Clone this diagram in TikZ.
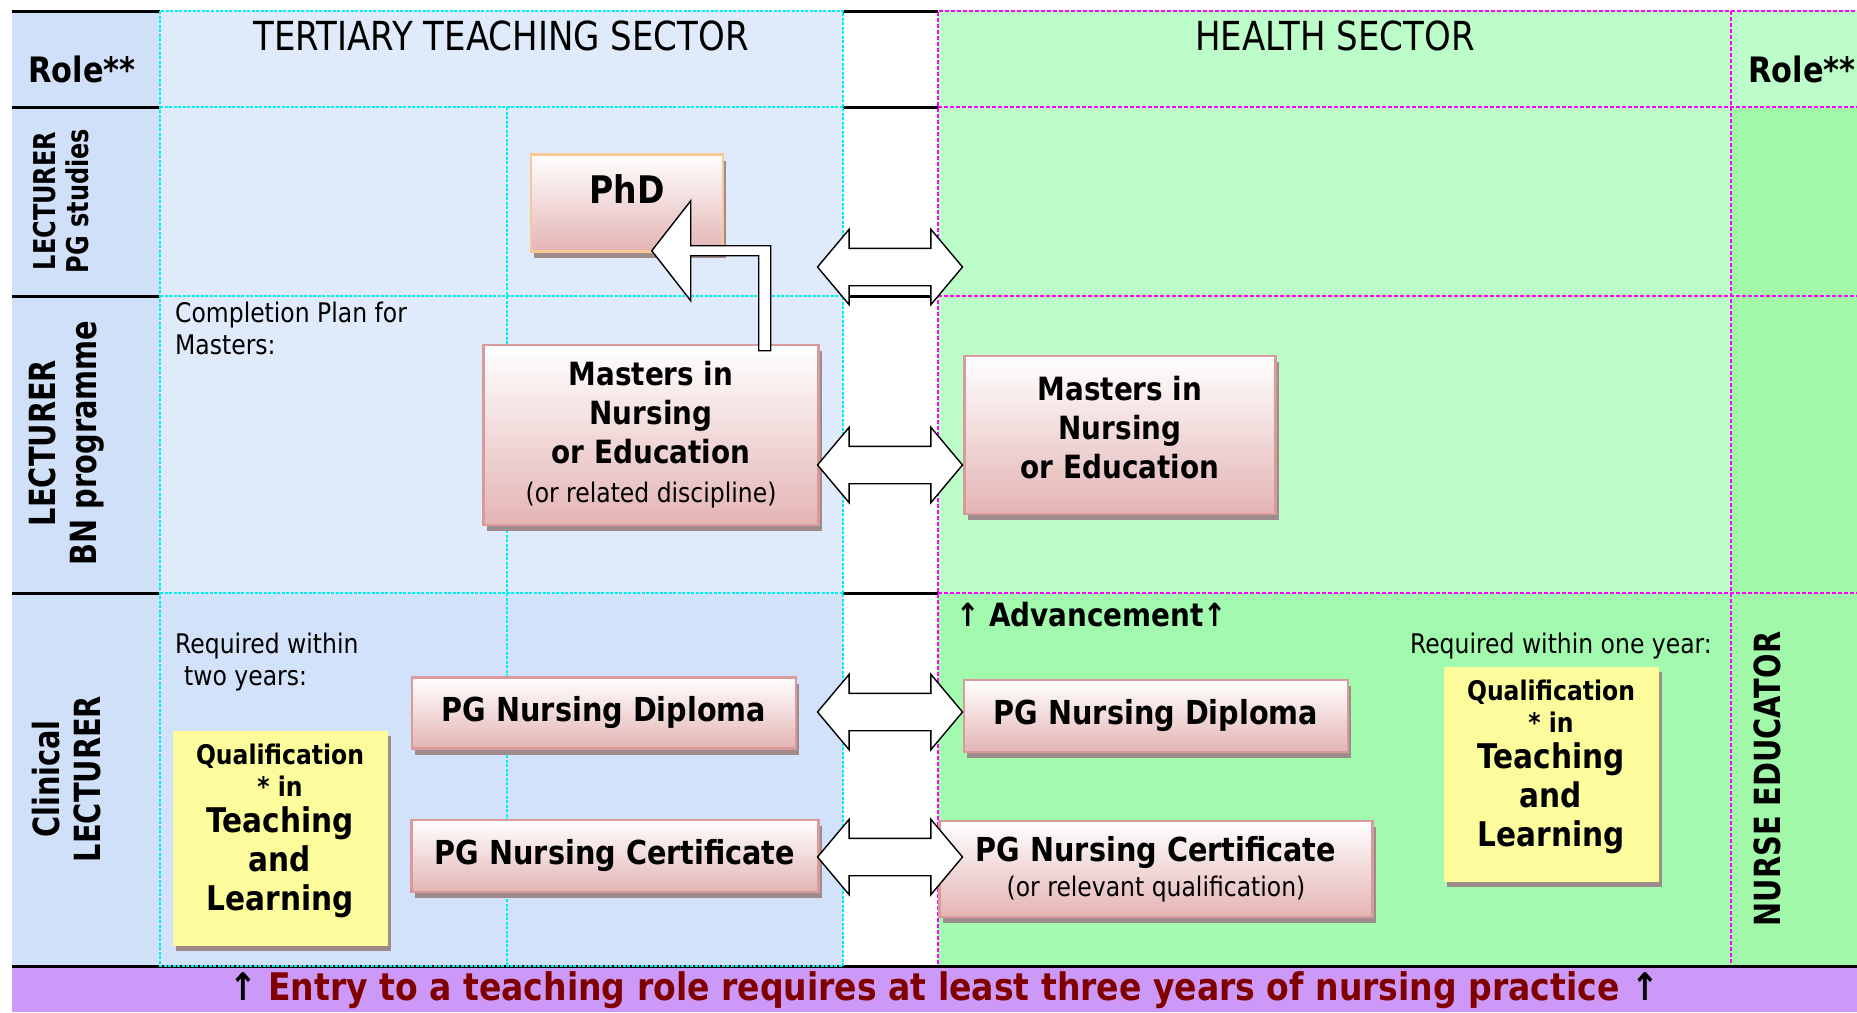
\documentclass[tikz,border=0pt]{standalone}
\usepackage{fontspec}
\setmainfont{DejaVu Sans}[FakeStretch=0.87]
\newfontfamily\rolefont{DejaVu Sans}[FakeStretch=0.8]
\newfontfamily\headfont{DejaVu Sans}[FakeStretch=0.85]
\usetikzlibrary{shapes.arrows,shadows,calc}
\definecolor{rolecol}{HTML}{D0E0F8}
\definecolor{tertlight}{HTML}{DFEBFA}
\definecolor{tertdark}{HTML}{D1E2FA}
\definecolor{healthlight}{HTML}{BDFDC9}
\definecolor{healthdark}{HTML}{A2FAAF}
\definecolor{nursecol}{HTML}{A0F8A8}
\definecolor{bannercol}{HTML}{CC99F8}
\definecolor{bannertext}{HTML}{800000}
\definecolor{pinkedge}{HTML}{D89A9A}
\definecolor{pinklow}{HTML}{E4B4B4}
\definecolor{peachedge}{HTML}{F8C896}
\definecolor{shadowcol}{HTML}{9E8C8C}
\definecolor{qualfill}{HTML}{FCFC9C}
\definecolor{gridcyan}{HTML}{00F0F0}
\definecolor{gridmagenta}{HTML}{FF00FF}
\begin{document}
\begin{tikzpicture}[x=1pt, y=-1pt,
  rule/.style={line width=3pt},
  tealgrid/.style={gridcyan, line width=1.8pt, dash pattern=on 3pt off 1.5pt},
  pinkgrid/.style={gridmagenta, line width=2.2pt, dash pattern=on 4pt off 2pt},
  degree/.style={draw=pinkedge, line width=2.5pt, top color=white, bottom color=pinklow, align=center, inner sep=0pt,
    general shadow={fill=shadowcol, shadow xshift=3pt, shadow yshift=-6pt}},
  qualbox/.style={fill=qualfill, align=center, inner sep=0pt, minimum width=215pt, minimum height=215pt,
    text depth=21pt, font=\fontsize{34}{39}\selectfont\bfseries,
    general shadow={fill=shadowcol, shadow xshift=3pt, shadow yshift=-5pt}},
  swap/.style={double arrow, draw, fill=white, line width=1.4pt, double arrow head extend=19pt,
    double arrow tip angle=100, inner xsep=0pt, inner ysep=18pt, minimum height=145pt},
  bent/.style={draw, fill=white, line width=1.4pt},
  rowlabel/.style={rotate=90, align=center},
  note/.style={align=left, inner sep=0pt, font=\fontsize{27}{32}\selectfont},
]
\useasboundingbox (0,0) rectangle (1857,1012);

\fill[rolecol] (12,11) rectangle (160,966);
\fill[tertlight] (160,11) rectangle (843,593);
\fill[tertdark] (160,593) rectangle (843,966);
\fill[healthlight] (938,11) rectangle (1857,107);
\fill[healthlight] (938,107) rectangle (1731,593);
\fill[healthdark] (938,593) rectangle (1731,966);
\fill[nursecol] (1731,107) rectangle (1857,966);
\fill[bannercol] (12,966) rectangle (1857,1012);

\foreach \y in {11,107,296,593} {
  \draw[rule] (12,\y) -- (160,\y);
  \draw[rule] (843,\y) -- (938,\y);
}
\draw[rule] (12,966) -- (1857,966);

\draw[tealgrid] (160,11) rectangle (843,966);
\foreach \y in {107,296,593}
  \draw[tealgrid] (160,\y) -- (843,\y);
\draw[tealgrid] (507,107) -- (507,966);
\draw[pinkgrid] (938,964) -- (938,11) -- (1857,11);
\foreach \y in {107,296,593}
  \draw[pinkgrid] (938,\y) -- (1857,\y);
\draw[pinkgrid] (1731,11) -- (1731,964);

\node[font=\fontsize{35}{40}\selectfont\bfseries] (roleL) at (82,69) {Role**};
\node[font=\fontsize{35}{40}\selectfont\bfseries, anchor=west, inner sep=0pt] (roleR) at (1748,69) {Role**};
\node[font=\headfont\fontsize{40}{44}\selectfont] (tertiary) at (501,36) {TERTIARY TEACHING SECTOR};
\node[font=\headfont\fontsize{40}{44}\selectfont] (health) at (1335,36) {HEALTH SECTOR};

\node[rowlabel, font=\rolefont\bfseries\fontsize{30}{33}\selectfont] (pgrow) at (61,201) {LECTURER\\PG studies};
\node[rowlabel, font=\rolefont\bfseries\fontsize{36}{41}\selectfont] (bnrow) at (67,443) {LECTURER\\BN programme};
\node[rowlabel, font=\rolefont\bfseries\fontsize{36}{41}\selectfont] (clinrow) at (67,779) {Clinical\\LECTURER};
\node[rowlabel, font=\rolefont\bfseries\fontsize{36}{41}\selectfont] (nurserow) at (1767,779) {NURSE EDUCATOR};

\node[note, anchor=north west] (plan) at (175,302) {Completion Plan for\\Masters:};
\node[note, anchor=north west] (twoyears) at (175,633) {Required within\\\hspace*{9pt}two years:};
\node[note, anchor=north east] (oneyear) at (1712,633) {Required within one year:};
\node[font=\fontsize{32}{36}\selectfont\bfseries, anchor=west, inner sep=0pt] (advance) at (956,615) {↑ Advancement↑};

\node[degree, draw=peachedge, minimum width=192pt, minimum height=97pt, text depth=27pt,
  font=\fontsize{38}{44}\selectfont\bfseries] (phd) at (627,203) {PhD};
\node[degree, minimum width=335pt, minimum height=180pt, font=\fontsize{32}{39}\selectfont\bfseries] (mastL) at (651,435)
  {Masters in\\Nursing\\or Education\\{\mdseries\fontsize{27}{32}\selectfont (or related discipline)}};
\node[degree, minimum width=311pt, minimum height=158pt, text depth=16pt, font=\fontsize{32}{39}\selectfont\bfseries] (mastR) at (1120,435)
  {Masters in\\Nursing\\or Education};
\node[degree, minimum width=384pt, minimum height=71pt, font=\fontsize{33}{39}\selectfont\bfseries] (dipL) at (604,713) {PG Nursing Diploma};
\node[degree, minimum width=407pt, minimum height=72pt, font=\fontsize{33}{39}\selectfont\bfseries] (certL) at (615,856) {PG Nursing Certificate};
\node[degree, minimum width=384pt, minimum height=72pt, font=\fontsize{33}{39}\selectfont\bfseries] (dipR) at (1156,716) {PG Nursing Diploma};
\node[degree, minimum width=433pt, minimum height=96pt, font=\fontsize{33}{35}\selectfont\bfseries] (certR) at (1156,869)
  {PG Nursing Certificate\\{\mdseries\fontsize{27}{32}\selectfont (or relevant qualification)}};

\node[qualbox] (qualL) at (280,838)
  {{\fontsize{27}{32}\selectfont Qualification}\\[-7pt]{\fontsize{27}{32}\selectfont * in}\\[-3pt]Teaching\\and\\Learning};
\node[qualbox] (qualR) at (1551,774)
  {{\fontsize{27}{32}\selectfont Qualification}\\[-7pt]{\fontsize{27}{32}\selectfont * in}\\[-3pt]Teaching\\and\\Learning};

\node[swap] (swapphd) at (890,267) {};
\node[swap] (swapmast) at (890,465) {};
\node[swap] (swapdip) at (890,712) {};
\node[swap] (swapcert) at (890,857) {};

\coordinate (bendfoot) at ($(mastL.north east)+(-55,7)$);
\draw[bent] ($(bendfoot)+(-6,0)$) -- ++(0,-95) -- ++(-68,0) -- ++(0,45) -- ++(-39,-50)
  -- ++(39,-50) -- ++(0,45) -- ++(80,0) -- ++(0,105) -- cycle;

\node[font=\fontsize{38}{40}\selectfont\bfseries, text=bannertext] (entry) at (944,990)
  {\textcolor{black}{↑} Entry to a teaching role requires at least three years of nursing practice \textcolor{black}{↑}};
\end{tikzpicture}
\end{document}
